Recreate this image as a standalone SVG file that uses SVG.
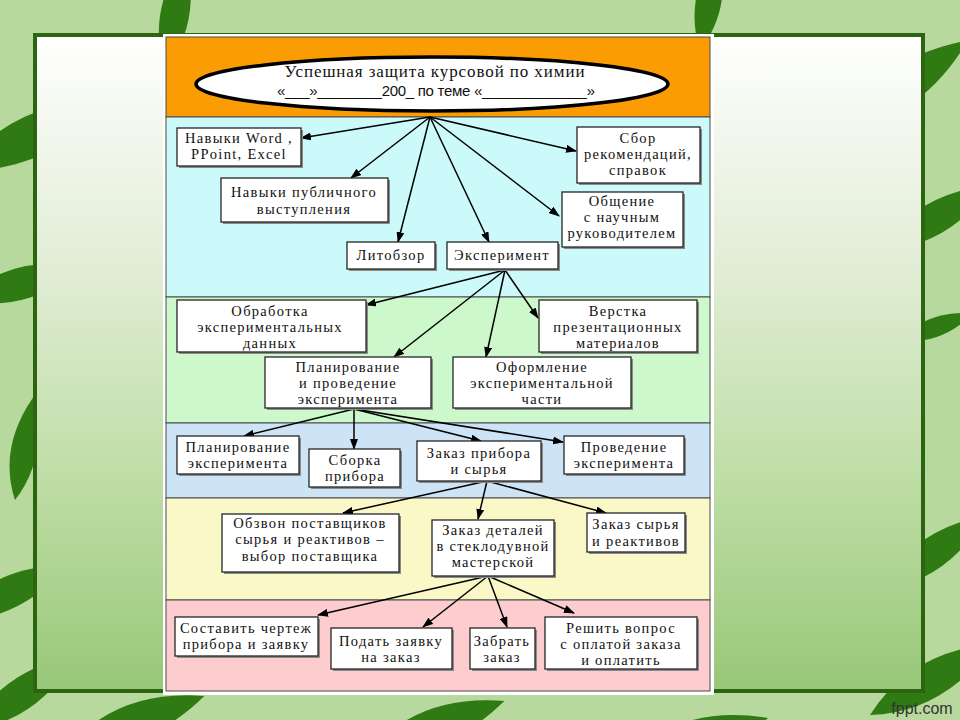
<svg xmlns="http://www.w3.org/2000/svg" width="960" height="720" viewBox="0 0 960 720">
<style>
.leaf{fill:#2f7a12}
.band{stroke:#4a4a4a;stroke-width:1}
.box{fill:#fff;stroke:#262626;stroke-width:1.3}
.sh{fill:#8a8a8a}
.t{font-family:"Liberation Serif","DejaVu Serif",serif;font-size:14.5px;letter-spacing:1.3px;fill:#111;text-anchor:middle}
.ttl{font-family:"Liberation Serif","DejaVu Serif",serif;font-size:17px;letter-spacing:0.9px;fill:#111;text-anchor:middle}
.ttl2{font-family:"Liberation Sans","DejaVu Sans",sans-serif;font-size:15px;fill:#111;text-anchor:middle}
.ar{stroke:#000;stroke-width:1.5;fill:none;marker-end:url(#ah)}
</style>
<defs>
<marker id="ah" markerUnits="userSpaceOnUse" markerWidth="11" markerHeight="8" refX="10" refY="4" orient="auto">
<path d="M0,0 L11,4 L0,8 z" fill="#000"/>
</marker>
<linearGradient id="pg" x1="0" y1="0" x2="0" y2="1">
<stop offset="0" stop-color="#ffffff"/>
<stop offset="0.35" stop-color="#e2edd6"/>
<stop offset="0.7" stop-color="#bcdca2"/>
<stop offset="1" stop-color="#98c778"/>
</linearGradient>
<path id="lf" d="M0,0 Q60,-32 130,0 Q60,32 0,0 z"/>
</defs>
<rect width="960" height="720" fill="#b7d99e"/>
<g id="leaves">
<use href="#lf" class="leaf" transform="translate(-40,170) rotate(-25) scale(1.3)"/>
<use href="#lf" class="leaf" transform="translate(165,70) rotate(-80) scale(0.9)"/>
<use href="#lf" class="leaf" transform="translate(700,50) rotate(-80) scale(0.8)"/>
<use href="#lf" class="leaf" transform="translate(840,130) rotate(-35) scale(1.2)"/>
<use href="#lf" class="leaf" transform="translate(880,250) rotate(-30) scale(1.0)"/>
<use href="#lf" class="leaf" transform="translate(-40,300) rotate(-15) scale(1.0)"/>
<use href="#lf" class="leaf" transform="translate(15,500) rotate(-80) scale(0.8)"/>
<use href="#lf" class="leaf" transform="translate(-50,620) rotate(-25) scale(1.0)"/>
<use href="#lf" class="leaf" transform="translate(-30,730) rotate(-35) scale(1.0)"/>
<use href="#lf" class="leaf" transform="translate(880,590) rotate(-35) scale(1.0)"/>
<use href="#lf" class="leaf" transform="translate(870,715) rotate(-30) scale(1.1)"/>
<use href="#lf" class="leaf" transform="translate(70,745) rotate(-20) scale(1.1)"/>
<use href="#lf" class="leaf" transform="translate(370,750) rotate(-20) scale(1.1)"/>
<use href="#lf" class="leaf" transform="translate(630,755) rotate(-15) scale(1.1)"/>
<use href="#lf" class="leaf" transform="translate(900,340) rotate(-20) scale(0.6)"/>
</g>
<rect x="35" y="35" width="888" height="656" fill="url(#pg)" stroke="#2d6410" stroke-width="4"/>
<text x="922" y="714" font-family="Liberation Sans, DejaVu Sans, sans-serif" font-size="16" fill="#333" text-anchor="middle">fppt.com</text>
<rect x="163" y="34" width="551" height="661" fill="#fff"/>
<g id="bands">
<rect class="band" x="166" y="37" width="544" height="80" fill="#fb9c04"/>
<rect class="band" x="166" y="117" width="544" height="180" fill="#ccfafa"/>
<rect class="band" x="166" y="297" width="544" height="126" fill="#ccf8cc"/>
<rect class="band" x="166" y="423" width="544" height="75" fill="#cce4f6"/>
<rect class="band" x="166" y="498" width="544" height="102" fill="#fbf8c8"/>
<rect class="band" x="166" y="600" width="544" height="91" fill="#fcccce"/>
</g>
<g id="title">
<ellipse cx="432" cy="84" rx="236" ry="27" fill="#fff" stroke="#000" stroke-width="3.5"/>
<text class="ttl" x="435" y="77">Успешная защита курсовой по химии</text>
<text class="ttl2" x="436" y="96" textLength="318" lengthAdjust="spacing">«___»________200_ по теме «_____________»</text>
</g>
<g id="connectors">
<line class="ar" x1="430" y1="117" x2="301" y2="138"/>
<line class="ar" x1="430" y1="117" x2="351" y2="178"/>
<line class="ar" x1="430" y1="117" x2="398" y2="242"/>
<line class="ar" x1="430" y1="117" x2="489" y2="242"/>
<line class="ar" x1="430" y1="117" x2="559" y2="216"/>
<line class="ar" x1="430" y1="117" x2="576" y2="151"/>
<line class="ar" x1="505" y1="270" x2="366" y2="305"/>
<line class="ar" x1="505" y1="270" x2="394" y2="357"/>
<line class="ar" x1="505" y1="270" x2="486" y2="357"/>
<line class="ar" x1="505" y1="270" x2="538" y2="318"/>
<line class="ar" x1="354" y1="409" x2="244" y2="436"/>
<line class="ar" x1="354" y1="409" x2="354" y2="449"/>
<line class="ar" x1="354" y1="409" x2="481" y2="441"/>
<line class="ar" x1="354" y1="409" x2="563" y2="442"/>
<line class="ar" x1="487" y1="481" x2="343" y2="513"/>
<line class="ar" x1="487" y1="481" x2="478" y2="519"/>
<line class="ar" x1="487" y1="481" x2="606" y2="513"/>
<line class="ar" x1="488" y1="576" x2="318" y2="615"/>
<line class="ar" x1="488" y1="576" x2="423" y2="627"/>
<line class="ar" x1="488" y1="576" x2="507" y2="627"/>
<line class="ar" x1="488" y1="576" x2="574" y2="613"/>
</g>
<g id="n1"><rect class="sh" x="179" y="130" width="124" height="38"/><rect class="box" x="177" y="128" width="124" height="38"/><text class="t" x="239" y="143">Навыки Word ,</text><text class="t" x="239" y="159">PPoint, Excel</text></g>
<g id="n2"><rect class="sh" x="579" y="129" width="123" height="56"/><rect class="box" x="577" y="127" width="123" height="56"/><text class="t" x="638" y="143">Сбор</text><text class="t" x="638" y="159">рекомендаций,</text><text class="t" x="638" y="175">справок</text></g>
<g id="n3"><rect class="sh" x="223" y="180" width="167" height="44"/><rect class="box" x="221" y="178" width="167" height="44"/><text class="t" x="304" y="197">Навыки публичного</text><text class="t" x="304" y="214">выступления</text></g>
<g id="n4"><rect class="sh" x="564" y="194" width="121" height="55"/><rect class="box" x="562" y="192" width="121" height="55"/><text class="t" x="622" y="206">Общение</text><text class="t" x="622" y="222">с научным</text><text class="t" x="622" y="238">руководителем</text></g>
<g id="n5"><rect class="sh" x="349" y="244" width="88" height="27"/><rect class="box" x="347" y="242" width="88" height="27"/><text class="t" x="391" y="260">Литобзор</text></g>
<g id="n6"><rect class="sh" x="449" y="244" width="111" height="27"/><rect class="box" x="447" y="242" width="111" height="27"/><text class="t" x="502" y="260">Эксперимент</text></g>
<g id="n7"><rect class="sh" x="179" y="302" width="189" height="52"/><rect class="box" x="177" y="300" width="189" height="52"/><text class="t" x="270" y="316">Обработка</text><text class="t" x="270" y="332">экспериментальных</text><text class="t" x="270" y="348">данных</text></g>
<g id="n8"><rect class="sh" x="541" y="302" width="158" height="52"/><rect class="box" x="539" y="300" width="158" height="52"/><text class="t" x="618" y="316">Верстка</text><text class="t" x="618" y="332">презентационных</text><text class="t" x="618" y="348">материалов</text></g>
<g id="n9"><rect class="sh" x="267" y="359" width="166" height="51"/><rect class="box" x="265" y="357" width="166" height="51"/><text class="t" x="348" y="372">Планирование</text><text class="t" x="348" y="388">и проведение</text><text class="t" x="348" y="404">эксперимента</text></g>
<g id="n10"><rect class="sh" x="455" y="359" width="178" height="51"/><rect class="box" x="453" y="357" width="178" height="51"/><text class="t" x="542" y="372">Оформление</text><text class="t" x="542" y="388">экспериментальной</text><text class="t" x="542" y="404">части</text></g>
<g id="n11"><rect class="sh" x="179" y="438" width="122" height="38"/><rect class="box" x="177" y="436" width="122" height="38"/><text class="t" x="238" y="452">Планирование</text><text class="t" x="238" y="468">эксперимента</text></g>
<g id="n12"><rect class="sh" x="311" y="451" width="91" height="38"/><rect class="box" x="309" y="449" width="91" height="38"/><text class="t" x="355" y="465">Сборка</text><text class="t" x="355" y="481">прибора</text></g>
<g id="n13"><rect class="sh" x="419" y="443" width="124" height="40"/><rect class="box" x="417" y="441" width="124" height="40"/><text class="t" x="479" y="458">Заказ прибора</text><text class="t" x="479" y="474">и сырья</text></g>
<g id="n14"><rect class="sh" x="566" y="438" width="120" height="38"/><rect class="box" x="564" y="436" width="120" height="38"/><text class="t" x="624" y="452">Проведение</text><text class="t" x="624" y="468">эксперимента</text></g>
<g id="n15"><rect class="sh" x="224" y="516" width="177" height="58"/><rect class="box" x="222" y="514" width="177" height="58"/><text class="t" x="310" y="528">Обзвон поставщиков</text><text class="t" x="310" y="544">сырья и реактивов –</text><text class="t" x="310" y="561">выбор поставщика</text></g>
<g id="n16"><rect class="sh" x="434" y="522" width="122" height="56"/><rect class="box" x="432" y="520" width="122" height="56"/><text class="t" x="493" y="535">Заказ деталей</text><text class="t" x="493" y="551">в стеклодувной</text><text class="t" x="493" y="567">мастерской</text></g>
<g id="n17"><rect class="sh" x="589" y="515" width="98" height="39"/><rect class="box" x="587" y="513" width="98" height="39"/><text class="t" x="636" y="529">Заказ сырья</text><text class="t" x="636" y="546">и реактивов</text></g>
<g id="n18"><rect class="sh" x="177" y="619" width="143" height="39"/><rect class="box" x="175" y="617" width="143" height="39"/><text class="t" x="246" y="633">Составить чертеж</text><text class="t" x="246" y="649">прибора и заявку</text></g>
<g id="n19"><rect class="sh" x="333" y="630" width="121" height="41"/><rect class="box" x="331" y="628" width="121" height="41"/><text class="t" x="391" y="646">Подать заявку</text><text class="t" x="391" y="662">на заказ</text></g>
<g id="n20"><rect class="sh" x="472" y="630" width="65" height="41"/><rect class="box" x="470" y="628" width="65" height="41"/><text class="t" x="502" y="646">Забрать</text><text class="t" x="502" y="662">заказ</text></g>
<g id="n21"><rect class="sh" x="547" y="619" width="152" height="52"/><rect class="box" x="545" y="617" width="152" height="52"/><text class="t" x="621" y="633">Решить вопрос</text><text class="t" x="621" y="649">с оплатой заказа</text><text class="t" x="621" y="665">и оплатить</text></g>
</svg>
